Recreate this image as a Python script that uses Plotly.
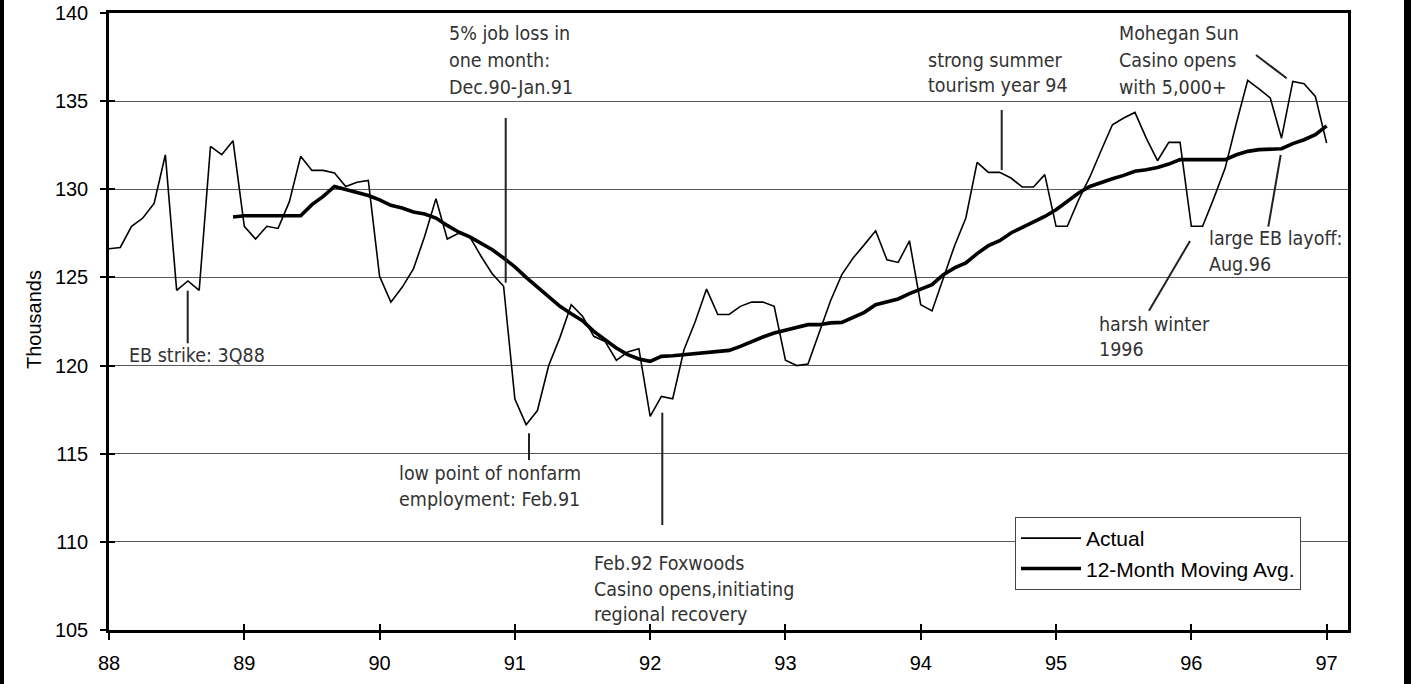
import plotly.graph_objects as go

# ---------------- data ----------------
month_index = list(range(109))                      # Jan-88 ... Jan-97
months = [88 + i / 12 for i in month_index]         # decimal years (two-digit)

actual = [
    126.63, 126.7, 127.9, 128.37, 129.2, 131.96, 124.27, 124.8, 124.27, 132.43, 131.96, 132.76,   # 88
    127.9, 127.18, 127.9, 127.78, 129.3, 131.87, 131.07, 131.07, 130.92, 130.16, 130.4, 130.5,    # 89
    125.06, 123.6, 124.44, 125.48, 127.33, 129.47, 127.18, 127.5, 127.3, 126.2, 125.2, 124.5,     # 90
    118.1, 116.65, 117.45, 120.0, 121.6, 123.45, 122.8, 121.66, 121.37, 120.3, 120.77, 120.96,    # 91
    117.12, 118.25, 118.12, 120.9, 122.5, 124.34, 122.9, 122.9, 123.36, 123.6, 123.6, 123.36,     # 92
    120.3, 120.0, 120.09, 121.94, 123.68, 125.16, 126.1, 126.86, 127.65, 126.0, 125.85, 127.08,   # 93
    123.45, 123.1, 125.0, 126.8, 128.37, 131.53, 130.96, 130.96, 130.64, 130.13, 130.13, 130.83,  # 94
    127.9, 127.9, 129.4, 130.7, 132.2, 133.66, 134.04, 134.36, 132.9, 131.62, 132.66, 132.66,     # 95
    127.9, 127.9, 129.5, 131.2, 133.76, 136.18, 135.7, 135.18, 132.9, 136.12, 135.99, 135.27,     # 96
    132.62,                                                                                        # 97
]

moving_avg = [None] * 11 + [
    128.43,                                                                                        # Dec 88
    128.5, 128.5, 128.5, 128.5, 128.5, 128.5, 129.13, 129.6, 130.16, 130.0, 129.79, 129.65,      # 89
    129.4, 129.09, 128.94, 128.71, 128.6, 128.37, 127.95, 127.58, 127.3, 126.95, 126.57, 126.1,  # 90
    125.6, 125.0, 124.45, 123.92, 123.36, 122.94, 122.55, 121.94, 121.47, 121.0, 120.62, 120.37, # 91
    120.24, 120.52, 120.56, 120.62, 120.67, 120.75, 120.77, 120.86, 121.09, 121.37, 121.62, 121.85,  # 92
    122.0, 122.13, 122.32, 122.32, 122.42, 122.45, 122.76, 123.02, 123.45, 123.6, 123.78, 124.08,    # 93
    124.34, 124.59, 125.16, 125.54, 125.82, 126.35, 126.8, 127.08, 127.52, 127.84, 128.12, 128.46,   # 94
    128.84, 129.31, 129.79, 130.16, 130.4, 130.6, 130.79, 131.02, 131.11, 131.24, 131.43, 131.68,    # 95
    131.68, 131.68, 131.68, 131.68, 131.96, 132.15, 132.25, 132.3, 132.3, 132.59, 132.81, 133.1,     # 96
    133.6,                                                                                            # 97
]

x_tick_vals = [88, 89, 90, 91, 92, 93, 94, 95, 96, 97]
x_tick_text = ["88", "89", "90", "91", "92", "93", "94", "95", "96", "97"]
y_tick_vals = [105, 110, 115, 120, 125, 130, 135, 140]

series_names = ["Actual", "12-Month Moving Avg."]

# ---------------- layout geometry (pixels) ----------------
W, H = 1411, 684
ML, MR, MT, MB = 109, 63, 13, 54
X_MIN, X_MAX = 88, 97.158
Y_MIN, Y_MAX = 105, 140
PW, PH = W - ML - MR, H - MT - MB


def dx(px):  # pixel -> data x
    return X_MIN + (px - ML) / PW * (X_MAX - X_MIN)


def dy(py):  # pixel -> data y
    return Y_MAX - (py - MT) / PH * (Y_MAX - Y_MIN)


def paper_x(px):
    return (px - ML) / PW


def paper_y(py):
    return (H - MB - py) / PH


ANNO_FONT = dict(family="Liberation Sans Narrow, Arial Narrow, DejaVu Sans Condensed, sans-serif",
                 size=19.5, color="#333333")
AXIS_FONT = dict(family="Liberation Sans, Arial, sans-serif", size=20, color="black")

# callout texts: (lines, left px, list of line-centre px)
callouts = [
    (["EB strike: 3Q88"], 126.7, [355]),
    (["5% job loss in", "one month:", "Dec.90-Jan.91"], 446.7, [33, 60, 87]),
    (["low point of nonfarm", "employment: Feb.91"], 396.7, [473, 499]),
    (["Feb.92 Foxwoods", "Casino opens,initiating", "regional recovery"], 592.3, [563, 589, 614]),
    (["strong summer", "tourism year 94"], 925.7, [60, 85]),
    (["Mohegan Sun", "Casino opens", "with 5,000+"], 1116.7, [33, 60, 87]),
    (["large EB layoff:", "Aug.96"], 1207.3, [238, 264]),
    (["harsh winter", "1996"], 1097.3, [324, 349]),
]

# leader lines (pixel endpoints)
leaders = [
    (187.7, 290.7, 187.7, 343.3),
    (505.7, 118.0, 505.7, 282.7),
    (529.0, 433.3, 529.0, 460.0),
    (662.3, 412.7, 662.3, 525.0),
    (1001.7, 110.0, 1001.7, 170.0),
    (1256.0, 55.0, 1286.7, 78.3),
    (1280.7, 155.0, 1268.3, 226.7),
    (1190.0, 241.0, 1149.0, 310.7),
]

fig = go.Figure()

fig.add_trace(go.Scatter(
    x=months, y=actual, mode="lines", name=series_names[0],
    line=dict(color="black", width=1.6), xaxis="x", yaxis="y",
))
fig.add_trace(go.Scatter(
    x=months, y=moving_avg, mode="lines", name=series_names[1],
    line=dict(color="black", width=3.6), xaxis="x", yaxis="y",
))
# dummy trace for the overlay axes (cross ticks)
fig.add_trace(go.Scatter(x=[None], y=[None], xaxis="x2", yaxis="y2",
                         showlegend=False, hoverinfo="skip"))

annotations = []
for lines, left, centres in callouts:
    for txt, cy in zip(lines, centres):
        annotations.append(dict(
            x=dx(left), y=dy(cy), xref="x", yref="y", text=txt, showarrow=False,
            xanchor="left", yanchor="middle", align="left", font=ANNO_FONT,
        ))

annotations.append(dict(
    x=paper_x(34), y=paper_y(320), xref="paper", yref="paper", text="Thousands",
    showarrow=False, textangle=-90, xanchor="center", yanchor="middle",
    font=dict(family="Liberation Sans, Arial, sans-serif", size=20, color="black"),
))

shapes = []
for x0, y0, x1, y1 in leaders:
    shapes.append(dict(type="line", xref="x", yref="y",
                       x0=dx(x0), y0=dy(y0), x1=dx(x1), y1=dy(y1),
                       line=dict(color="#222222", width=2)))
# outer frame edges of the original picture
for fx0, fx1 in ((0, 4), (1404, 1411)):
    shapes.append(dict(type="rect", xref="paper", yref="paper",
                       x0=paper_x(fx0), x1=paper_x(fx1), y0=-0.09, y1=1.03,
                       line=dict(width=0), fillcolor="black", layer="above"))

fig.update_layout(
    width=W, height=H,
    margin=dict(l=ML, r=MR, t=MT, b=MB, pad=0, autoexpand=False),
    paper_bgcolor="white", plot_bgcolor="white",
    showlegend=True,
    legend=dict(
        x=paper_x(1015), y=paper_y(517), xanchor="left", yanchor="top",
        bgcolor="white", bordercolor="#444444", borderwidth=1,
        font=dict(family="Liberation Sans, Arial, sans-serif", size=21, color="black"),
        itemwidth=60, tracegroupgap=0,
    ),
    xaxis=dict(
        range=[X_MIN, X_MAX], tickmode="array", tickvals=x_tick_vals, ticktext=x_tick_text,
        ticks="outside", ticklen=7, tickwidth=1.5, tickcolor="black",
        showline=True, linewidth=2.5, linecolor="black", mirror=True,
        showgrid=False, zeroline=False, tickfont=AXIS_FONT, ticklabelstandoff=6,
        automargin=False,
    ),
    yaxis=dict(
        range=[Y_MIN, Y_MAX], tickmode="array", tickvals=y_tick_vals,
        ticks="outside", ticklen=6, tickwidth=1.5, tickcolor="black",
        showline=True, linewidth=2.5, linecolor="black", mirror=True,
        showgrid=True, gridcolor="#5a5a5a", gridwidth=1, zeroline=False,
        tickfont=AXIS_FONT, ticklabelstandoff=8, automargin=False,
    ),
    xaxis2=dict(
        range=[X_MIN, X_MAX], overlaying="x", anchor="y", side="bottom",
        tickmode="array", tickvals=x_tick_vals, ticks="inside", ticklen=6,
        tickwidth=1.5, tickcolor="black", showticklabels=False,
        showline=False, showgrid=False, zeroline=False, automargin=False,
    ),
    yaxis2=dict(
        range=[Y_MIN, Y_MAX], overlaying="y", anchor="x", side="left",
        tickmode="array", tickvals=y_tick_vals, ticks="inside", ticklen=6,
        tickwidth=1.5, tickcolor="black", showticklabels=False,
        showline=False, showgrid=False, zeroline=False, automargin=False,
    ),
    annotations=annotations,
    shapes=shapes,
)

fig.write_html(
    "out.html",
    config={"displayModeBar": False},
    post_script="document.body.style.margin='0';",
)
